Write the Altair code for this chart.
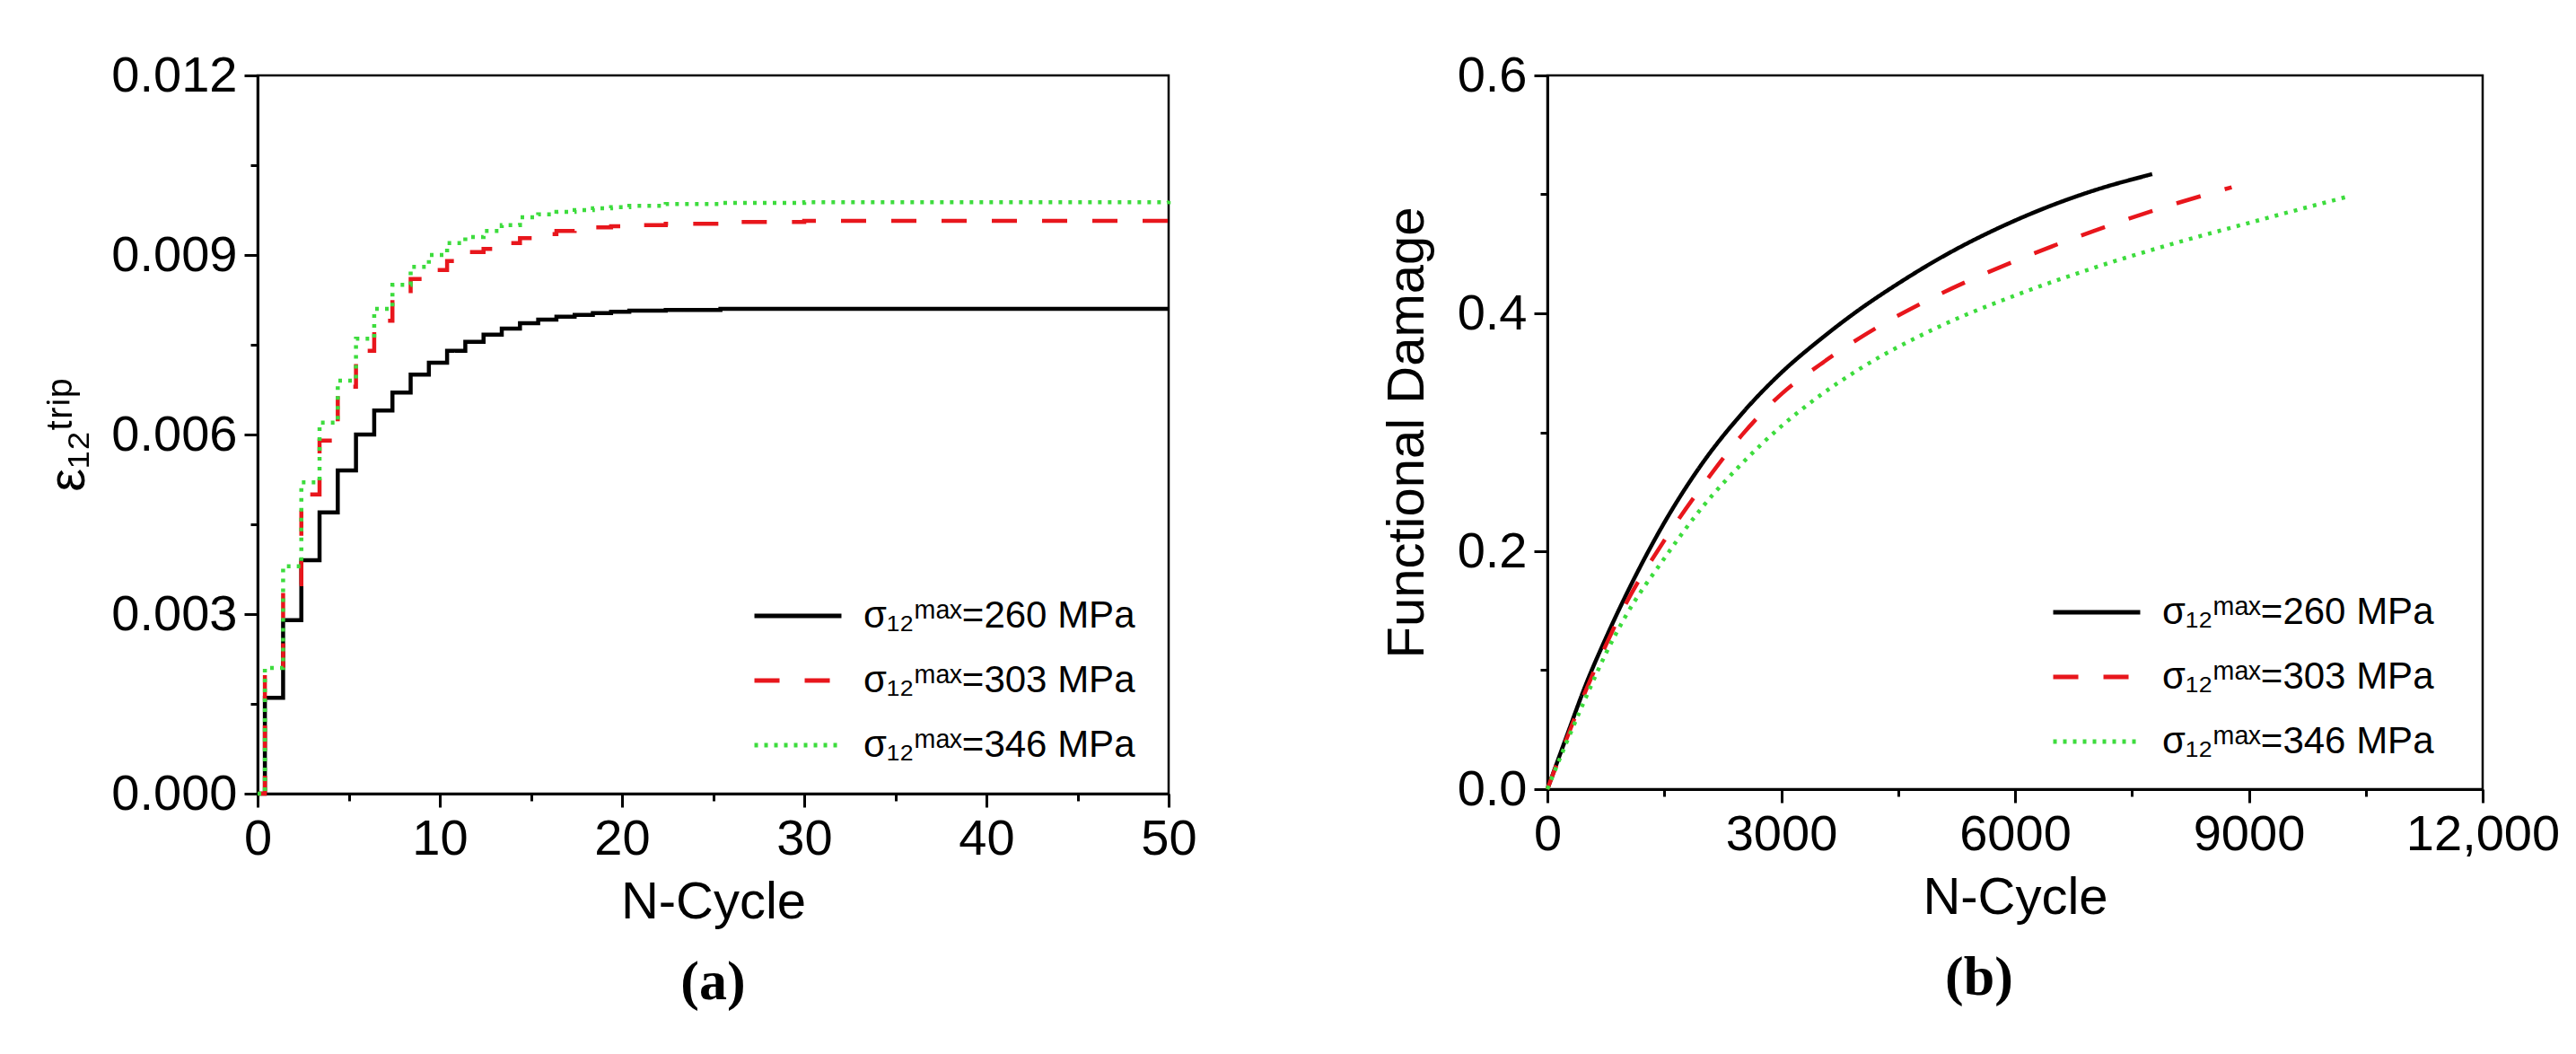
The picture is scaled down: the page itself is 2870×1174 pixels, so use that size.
import altair as alt
import pandas as pd

# ---- panel (a): TRIP strain, step curves ----
series = ["σ₁₂ᵐᵃˣ=260 MPa", "σ₁₂ᵐᵃˣ=303 MPa", "σ₁₂ᵐᵃˣ=346 MPa"]
colors = ["#000000", "#e8161c", "#3ddc3d"]
dashes = [[1, 0], [28, 28], [4, 7]]

trip_n = [0, 0.4, 1.4, 2.4, 3.4, 4.4, 5.4, 6.4, 7.4, 8.4, 9.4, 10.4, 11.4, 12.4,
          13.4, 14.4, 15.4, 16.4, 17.4, 18.4, 19.4, 20.4, 22.4, 25.4, 30.0, 50.0]
trip_260 = [0, 0.0016, 0.0029, 0.0039, 0.0047, 0.0054, 0.0060, 0.0064, 0.0067, 0.0070,
            0.0072, 0.0074, 0.00755, 0.00767, 0.00777, 0.00786, 0.00792, 0.00797, 0.0080,
            0.00803, 0.00805, 0.00807, 0.00808, 0.0081, 0.0081, 0.0081]
trip_303 = [0, 0.0020, 0.0035, 0.0050, 0.0059, 0.0068, 0.0074, 0.0079, 0.0083, 0.0086,
            0.00875, 0.0089, 0.00905, 0.0091, 0.0092, 0.00928, 0.00935, 0.0094, 0.00943,
            0.00946, 0.00948, 0.0095, 0.00952, 0.00955, 0.00957, 0.00957]
trip_346 = [0, 0.0021, 0.0038, 0.0052, 0.0062, 0.0069, 0.0076, 0.0081, 0.0085, 0.0088,
            0.0090, 0.0092, 0.0093, 0.0094, 0.0095, 0.00963, 0.00968, 0.00972, 0.00975,
            0.00978, 0.0098, 0.00982, 0.00985, 0.00987, 0.00988, 0.0099]

# ---- panel (b): functional damage ----
dmg_n_260 = [0, 250, 500, 750, 1000, 1500, 2000, 2500, 3000, 3500, 4000, 4500, 5000, 6000,
             7000, 7760]
dmg_260 = [0, 0.045, 0.089, 0.127, 0.162, 0.224, 0.275, 0.316, 0.350, 0.378, 0.403, 0.425,
           0.445, 0.478, 0.503, 0.517]
dmg_n_303 = [0, 250, 500, 750, 1000, 1500, 2000, 2500, 3000, 3500, 4000, 5000, 6000, 7000,
             8000, 8780]
dmg_303 = [0, 0.043, 0.084, 0.121, 0.155, 0.209, 0.256, 0.298, 0.332, 0.357, 0.379, 0.415,
           0.444, 0.469, 0.491, 0.506]
dmg_n_346 = [0, 250, 500, 750, 1000, 1500, 2000, 2500, 3000, 3500, 4000, 5000, 6000, 7000,
             8000, 9000, 10260]
dmg_346 = [0, 0.040, 0.078, 0.114, 0.145, 0.194, 0.238, 0.274, 0.305, 0.331, 0.353, 0.388,
           0.415, 0.438, 0.458, 0.476, 0.498]

# axis tick positions (major + minor)
a_x_ticks = [0, 5, 10, 15, 20, 25, 30, 35, 40, 45, 50]
a_y_ticks = [0, 0.0015, 0.003, 0.0045, 0.006, 0.0075, 0.009, 0.0105, 0.012]
b_x_ticks = [0, 1500, 3000, 4500, 6000, 7500, 9000, 10500, 12000]
b_y_ticks = [0, 0.1, 0.2, 0.3, 0.4, 0.5, 0.6]

FONT = "Liberation Sans"


def long_frame(pairs):
    rows = []
    for name, ns, vals in pairs:
        for i, (n, v) in enumerate(zip(ns, vals)):
            rows.append({"series": name, "n": n, "v": v, "order": i})
    return pd.DataFrame(rows)


def tick_size(test):
    return {"condition": {"test": test, "value": 15}, "value": 8}


def legend(x, y):
    return alt.Legend(
        title=None, orient="none", legendX=x, legendY=y, padding=0,
        symbolType="stroke", symbolSize=9400, symbolStrokeWidth=5,
        labelFont=FONT, labelFontSize=42, labelColor="black", labelLimit=0,
        rowPadding=0, labelOffset=22,
    )


trip = long_frame([(series[0], trip_n, trip_260), (series[1], trip_n, trip_303),
                   (series[2], trip_n, trip_346)])
dmg = long_frame([(series[0], dmg_n_260, dmg_260), (series[1], dmg_n_303, dmg_303),
                  (series[2], dmg_n_346, dmg_346)])

a_major = "datum.value % 10 === 0"
a_y_major = "round(datum.value * 2000) % 6 === 0"
panel_a = alt.Chart(trip).mark_line(interpolate="step-after", strokeWidth=4.5).encode(
    x=alt.X("n:Q", scale=alt.Scale(domain=[0, 50], nice=False),
            axis=alt.Axis(title="N-Cycle", values=a_x_ticks, tickSize=tick_size(a_major),
                          labelExpr=f"{a_major} ? format(datum.value, 'd') : ''")),
    y=alt.Y("v:Q", scale=alt.Scale(domain=[0, 0.012], nice=False),
            axis=alt.Axis(title="ε₁₂ᵗʳⁱᵖ", values=a_y_ticks, tickSize=tick_size(a_y_major),
                          labelExpr=f"{a_y_major} ? format(datum.value, '.3f') : ''",
                          titlePadding=18)),
    color=alt.Color("series:N", scale=alt.Scale(domain=series, range=colors),
                    legend=legend(551, 551)),
    strokeDash=alt.StrokeDash("series:N", scale=alt.Scale(domain=series, range=dashes),
                              legend=legend(551, 551)),
    order="order:Q",
).properties(
    width=1015, height=800,
    title=alt.TitleParams("(a)", orient="bottom", frame="group", font="Liberation Serif",
                          fontSize=62, fontWeight="bold", offset=30),
)

b_major = "datum.value % 3000 === 0"
b_y_major = "round(datum.value * 10) % 2 === 0"
panel_b = alt.Chart(dmg).mark_line(interpolate="monotone", strokeWidth=4.5).encode(
    x=alt.X("n:Q", scale=alt.Scale(domain=[0, 12000], nice=False),
            axis=alt.Axis(title="N-Cycle", values=b_x_ticks, tickSize=tick_size(b_major),
                          labelExpr=f"{b_major} ? (datum.value >= 10000 ? format(datum.value, ',') : format(datum.value, 'd')) : ''")),
    y=alt.Y("v:Q", scale=alt.Scale(domain=[0, 0.6], nice=False),
            axis=alt.Axis(title="Functional Damage", values=b_y_ticks, tickSize=tick_size(b_y_major),
                          labelExpr=f"{b_y_major} ? format(datum.value, '.1f') : ''",
                          titlePadding=26)),
    color=alt.Color("series:N", scale=alt.Scale(domain=series, range=colors),
                    legend=legend(561, 547)),
    strokeDash=alt.StrokeDash("series:N", scale=alt.Scale(domain=series, range=dashes),
                              legend=legend(561, 547)),
    order="order:Q",
).properties(
    width=1042, height=795,
    title=alt.TitleParams("(b)", orient="bottom", frame="group", font="Liberation Serif",
                          fontSize=62, fontWeight="bold", offset=30, dx=-40),
)

chart = (
    alt.hconcat(panel_a, panel_b, spacing=202)
    .resolve_scale(color="independent", strokeDash="independent")
    .properties(padding={"left": 38, "top": 46, "right": 5, "bottom": 5})
    .configure_view(stroke="black", strokeWidth=2.5)
    .configure_axis(
        grid=False, labelFont=FONT, labelFontSize=56, labelColor="black",
        titleFont=FONT, titleFontSize=58, titleFontWeight="normal", titleColor="black",
        domainColor="black", domainWidth=3, tickColor="black", tickWidth=3,
        labelPadding=8, labelFlush=False, labelOverlap=False, titlePadding=14,
    )
)

chart.save("out.html", embed_options={"renderer": "svg", "actions": False})
